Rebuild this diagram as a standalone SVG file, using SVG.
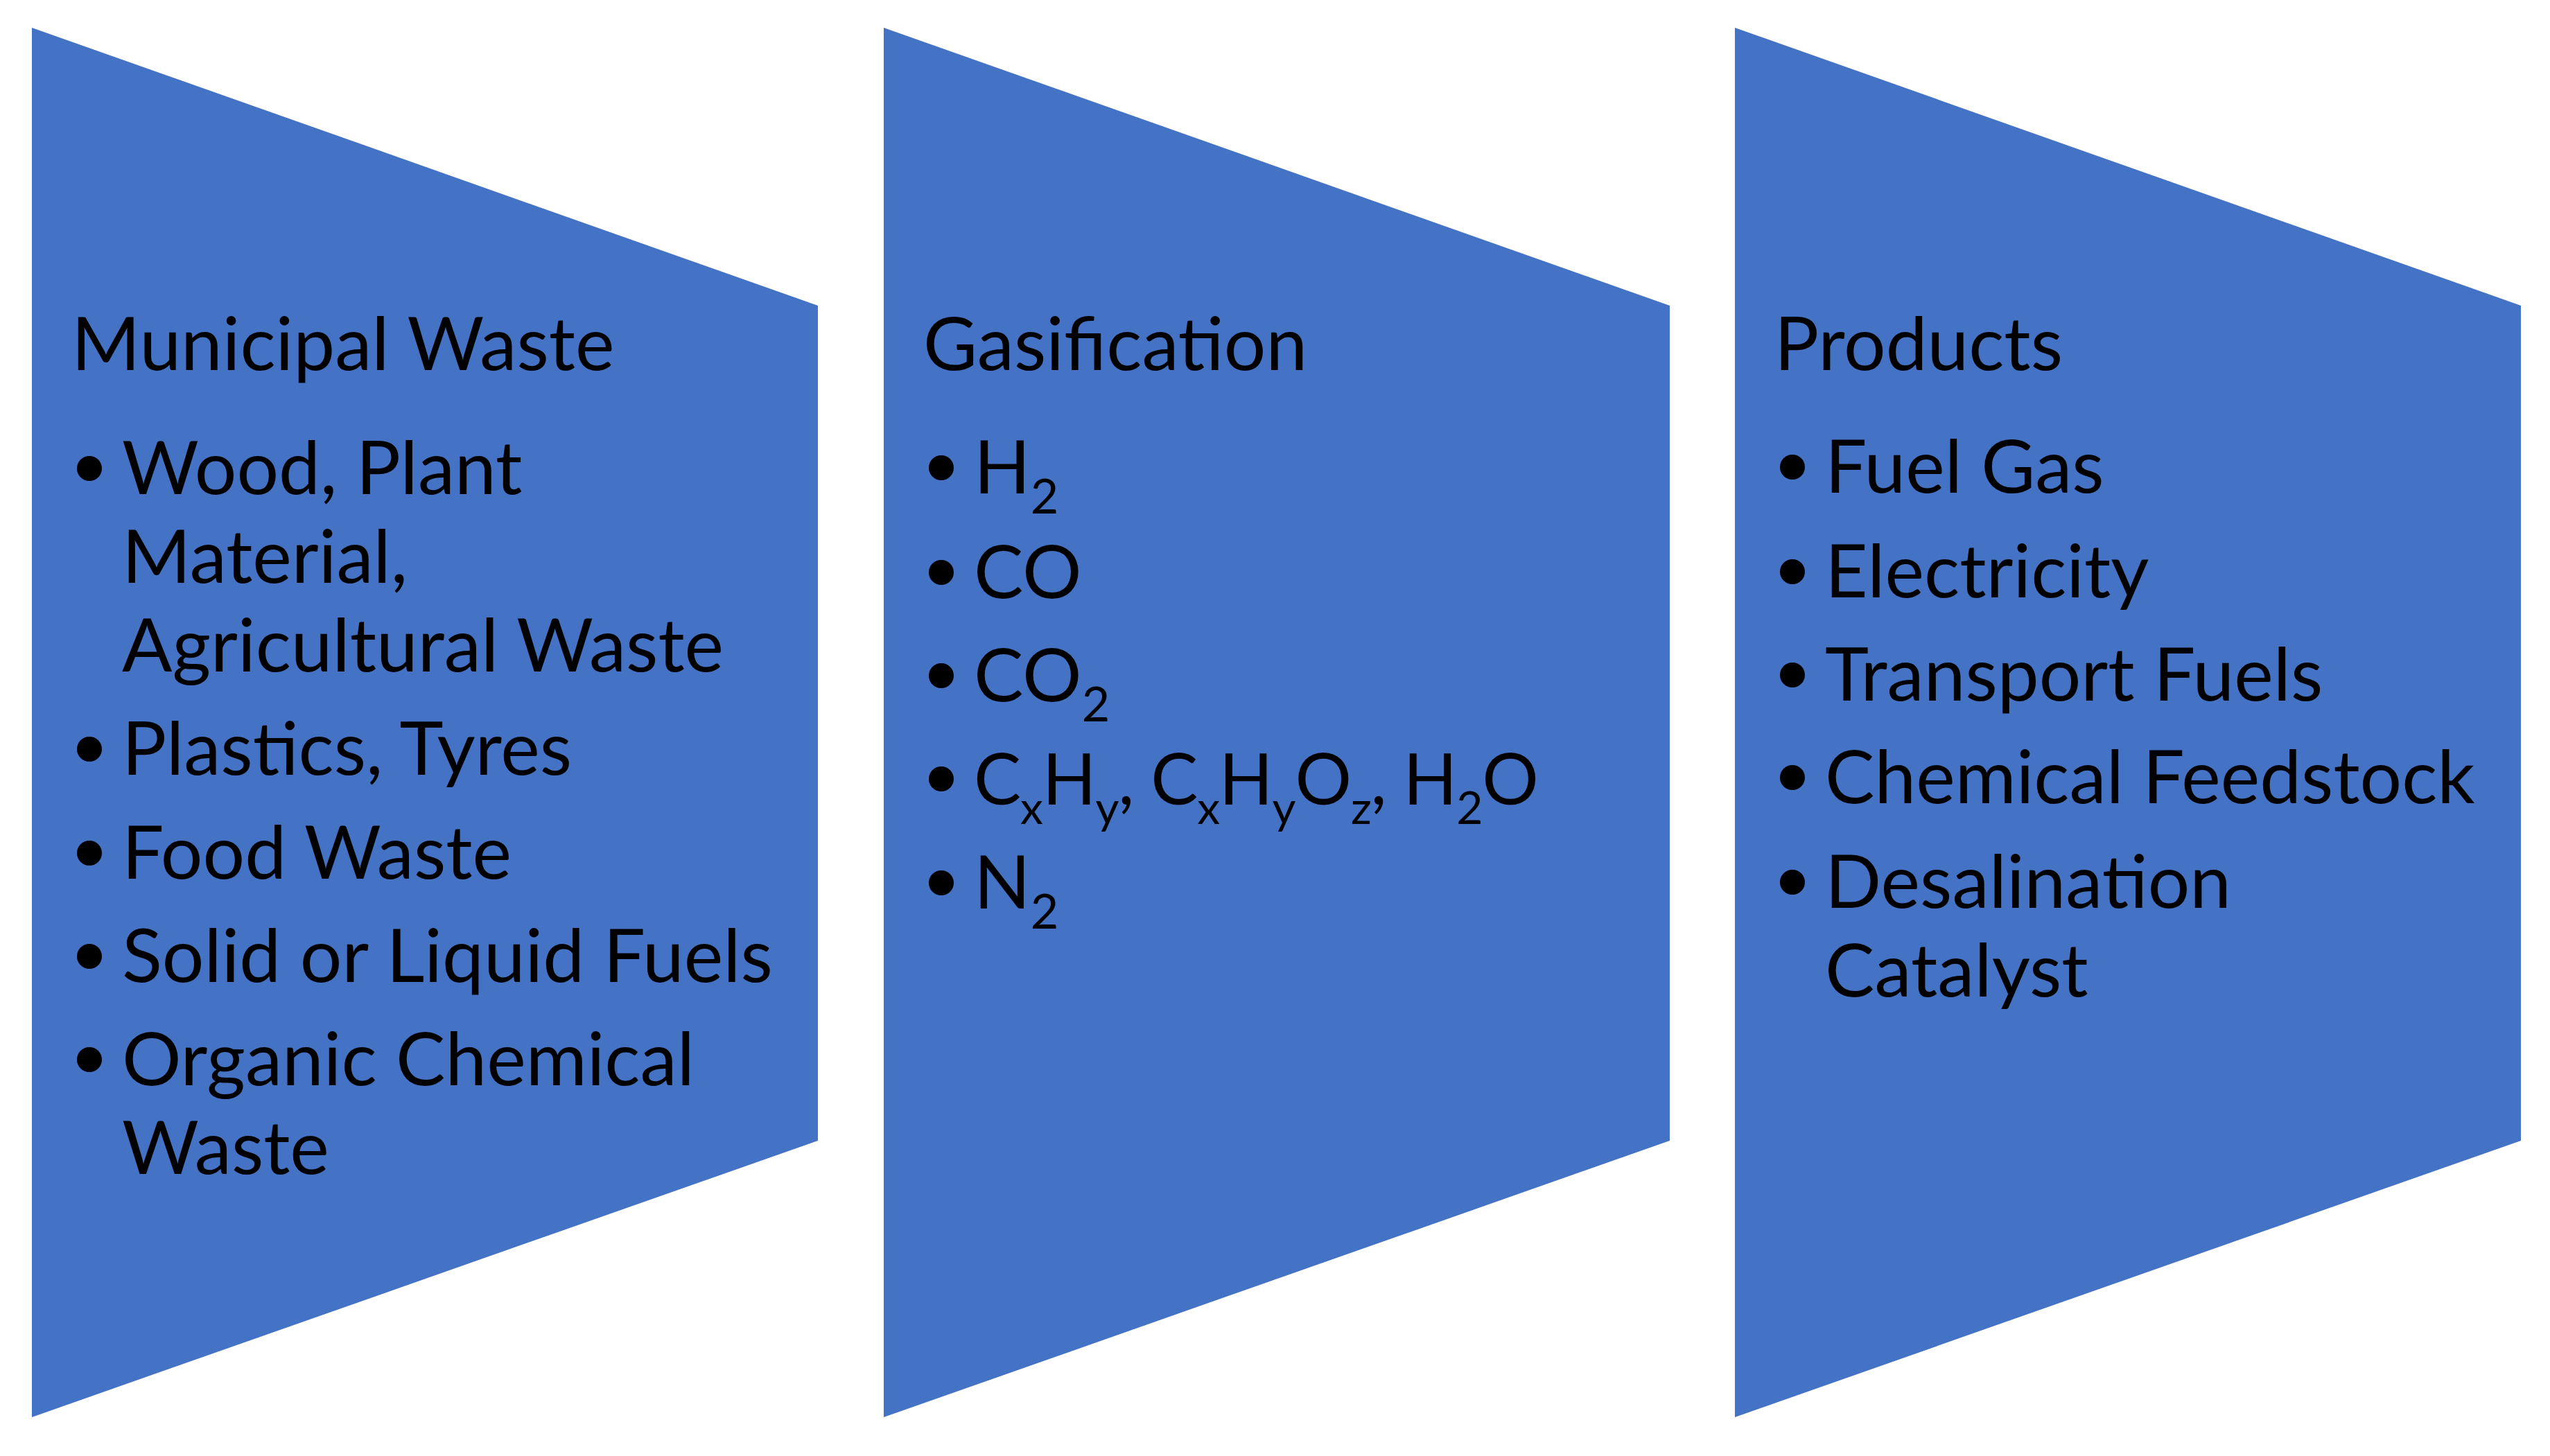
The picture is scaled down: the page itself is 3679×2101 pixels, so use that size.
<svg xmlns="http://www.w3.org/2000/svg" width="3679" height="2101" viewBox="0 0 3679 2101">
<style>
.shape{fill:#4472C4;}
.t{font-family:Lato,"Liberation Sans",sans-serif;font-size:107px;fill:#000;}
.sub{font-size:70px;}
.f{font-size:102px;}
.f .sub{font-size:66px;}
.dot{fill:#000;}
</style>
<rect width="3679" height="2101" fill="#fff"/>
<g id="municipal-waste">
<polygon class="shape" points="46,40 1180,441 1180,1646 46,2045"/>
<text class="t" x="103" y="534">Municipal Waste</text>
<circle class="dot" cx="129" cy="676" r="18"/>
<text class="t" x="176" y="713">Wood, Plant</text>
<text class="t" x="176" y="841">Material,</text>
<text class="t" x="176" y="969">Agricultural Waste</text>
<circle class="dot" cx="129" cy="1081" r="18"/>
<text class="t" x="176" y="1118">Plastics, Tyres</text>
<circle class="dot" cx="129" cy="1231" r="18"/>
<text class="t" x="176" y="1268">Food Waste</text>
<circle class="dot" cx="129" cy="1380" r="18"/>
<text class="t" x="176" y="1417">Solid or Liquid Fuels</text>
<circle class="dot" cx="129" cy="1529" r="18"/>
<text class="t" x="176" y="1566">Organic Chemical</text>
<text class="t" x="176" y="1694">Waste</text>
</g>
<g id="gasification">
<polygon class="shape" points="1275,40 2409,441 2409,1646 1275,2045"/>
<text class="t" x="1332" y="534">Gasification</text>
<circle class="dot" cx="1358" cy="675" r="18"/>
<text class="t" x="1405" y="712">H<tspan class="sub" dy="29">2</tspan></text>
<circle class="dot" cx="1358" cy="826" r="18"/>
<text class="t" x="1405" y="863">CO</text>
<circle class="dot" cx="1358" cy="975" r="18"/>
<text class="t" x="1405" y="1012">CO<tspan class="sub" dy="29">2</tspan></text>
<circle class="dot" cx="1358" cy="1124" r="18"/>
<text class="t f" x="1405" y="1161" textLength="815" lengthAdjust="spacing">C<tspan class="sub" dy="28">x</tspan><tspan dy="-28">H</tspan><tspan class="sub" dy="28">y</tspan><tspan dy="-28">, C</tspan><tspan class="sub" dy="28">x</tspan><tspan dy="-28">H</tspan><tspan class="sub" dy="28">y</tspan><tspan dy="-28">O</tspan><tspan class="sub" dy="28">z</tspan><tspan dy="-28">, H</tspan><tspan class="sub" dy="28">2</tspan><tspan dy="-28">O</tspan></text>
<circle class="dot" cx="1358" cy="1274" r="18"/>
<text class="t" x="1405" y="1311">N<tspan class="sub" dy="29">2</tspan></text>
</g>
<g id="products">
<polygon class="shape" points="2503,40 3637,441 3637,1646 2503,2045"/>
<text class="t" x="2560" y="534">Products</text>
<circle class="dot" cx="2586" cy="674" r="18"/>
<text class="t" x="2633" y="711">Fuel Gas</text>
<circle class="dot" cx="2586" cy="825" r="18"/>
<text class="t" x="2633" y="862">Electricity</text>
<circle class="dot" cx="2586" cy="974" r="18"/>
<text class="t" x="2633" y="1011">Transport Fuels</text>
<circle class="dot" cx="2586" cy="1122" r="18"/>
<text class="t" x="2633" y="1159">Chemical Feedstock</text>
<circle class="dot" cx="2586" cy="1273" r="18"/>
<text class="t" x="2633" y="1310">Desalination</text>
<text class="t" x="2633" y="1438">Catalyst</text>
</g>
</svg>
